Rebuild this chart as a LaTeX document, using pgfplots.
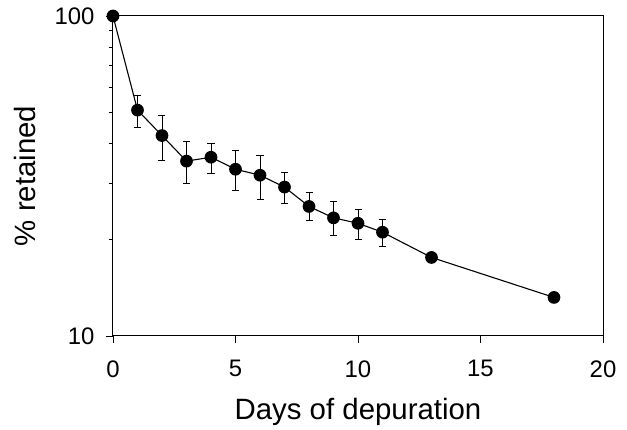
\documentclass[border=0pt]{standalone}
\usepackage{pgfplots}
\pgfplotsset{compat=1.18}
\usepackage{fontspec}
\setmainfont{Liberation Sans}
\begin{document}
\begin{tikzpicture}[x=1bp,y=1bp]
\begin{axis}[
  scale only axis,
  width=490bp, height=320bp,
  ymode=log,
  xmin=0, xmax=20, ymin=10, ymax=100,
  xtick={0,5,10,15,20},
  ytick={10,100}, yticklabels={10,100},
  minor ytick={20,30,40,50,60,70,80,90},
  xtick pos=bottom, ytick pos=left,
  tick align=outside,
  major tick length=7bp, minor tick length=3.5bp,
  every tick/.style={black, line width=0.8bp},
  axis line style={line width=1bp},
  /pgf/number format/assume math mode=true,
  tick label style={font=\fontsize{24}{28}\selectfont},
  xticklabel style={yshift=-14bp},
  yticklabel style={xshift=-8bp},
  label style={font=\fontsize{29.5}{34}\selectfont},
  xlabel={Days of depuration},
  ylabel={\% retained},
  xlabel style={at={(axis description cs:0.5,-0.2625)}, anchor=base},
  ylabel style={at={(axis description cs:-0.159,0.5)}, anchor=base},
  clip=false,
]
\addplot[black, line width=1.1bp, mark=*, mark size=5.8bp,
  mark options={fill=black},
  error bars/.cd, y dir=both, y explicit,
  error bar style={line width=0.9bp}, error mark options={rotate=90, mark size=3.5bp, line width=0.9bp}]
coordinates {
  (0,100) +- (0,0)
  (1,50.8) += (0,5.8) -= (0,6.1)
  (2,42.3) += (0,6.5) -= (0,6.9)
  (3,35.2) += (0,5.3) -= (0,5.3)
  (4,36.2) += (0,3.8) -= (0,4.1)
  (5,33.2) += (0,4.7) -= (0,4.8)
  (6,31.8) += (0,4.8) -= (0,5.1)
  (7,29.2) += (0,3.3) -= (0,3.3)
  (8,25.4) += (0,2.6) -= (0,2.5)
  (9,23.4) += (0,2.9) -= (0,2.8)
  (10,22.5) += (0,2.3) -= (0,2.4)
  (11,21.1) += (0,2.1) -= (0,2.0)
  (13,17.6) += (0,0.4) -= (0,0.4)
  (18,13.2) +- (0,0)
};
\end{axis}
\path ([xshift=-113bp,yshift=-92bp]current axis.south west) rectangle ([xshift=24bp,yshift=16bp]current axis.north east);
\end{tikzpicture}
\end{document}
